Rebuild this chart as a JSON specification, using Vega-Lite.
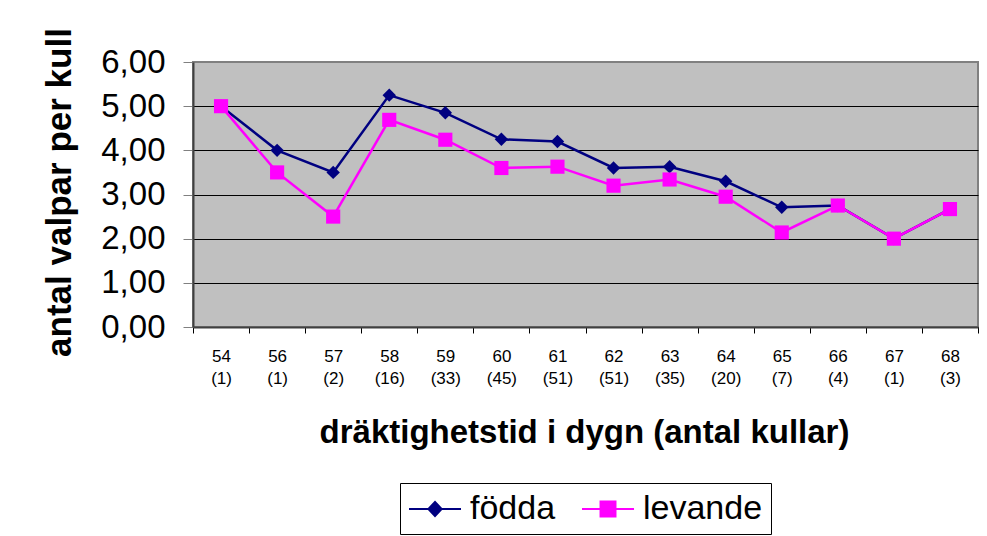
{
  "$schema": "https://vega.github.io/schema/vega-lite/v6.json",
  "width": 785,
  "height": 265,
  "autosize": {"type": "none"},
  "padding": {"left": 193, "top": 62, "right": 9, "bottom": 209},
  "background": "white",
  "config": {
    "font": "Liberation Sans",
    "view": {"fill": "#C0C0C0", "stroke": "#808080", "strokeWidth": 2}
  },
  "data": {
    "values": [
      {"kategori": "54 (1)", "serie": "födda", "antal": 5.00},
      {"kategori": "56 (1)", "serie": "födda", "antal": 4.00},
      {"kategori": "57 (2)", "serie": "födda", "antal": 3.50},
      {"kategori": "58 (16)", "serie": "födda", "antal": 5.25},
      {"kategori": "59 (33)", "serie": "födda", "antal": 4.85},
      {"kategori": "60 (45)", "serie": "födda", "antal": 4.25},
      {"kategori": "61 (51)", "serie": "födda", "antal": 4.20},
      {"kategori": "62 (51)", "serie": "födda", "antal": 3.60},
      {"kategori": "63 (35)", "serie": "födda", "antal": 3.63},
      {"kategori": "64 (20)", "serie": "födda", "antal": 3.30},
      {"kategori": "65 (7)", "serie": "födda", "antal": 2.71},
      {"kategori": "66 (4)", "serie": "födda", "antal": 2.75},
      {"kategori": "67 (1)", "serie": "födda", "antal": 2.00},
      {"kategori": "68 (3)", "serie": "födda", "antal": 2.67},
      {"kategori": "54 (1)", "serie": "levande", "antal": 5.00},
      {"kategori": "56 (1)", "serie": "levande", "antal": 3.50},
      {"kategori": "57 (2)", "serie": "levande", "antal": 2.50},
      {"kategori": "58 (16)", "serie": "levande", "antal": 4.69},
      {"kategori": "59 (33)", "serie": "levande", "antal": 4.24},
      {"kategori": "60 (45)", "serie": "levande", "antal": 3.60},
      {"kategori": "61 (51)", "serie": "levande", "antal": 3.63},
      {"kategori": "62 (51)", "serie": "levande", "antal": 3.20},
      {"kategori": "63 (35)", "serie": "levande", "antal": 3.34},
      {"kategori": "64 (20)", "serie": "levande", "antal": 2.95},
      {"kategori": "65 (7)", "serie": "levande", "antal": 2.14},
      {"kategori": "66 (4)", "serie": "levande", "antal": 2.75},
      {"kategori": "67 (1)", "serie": "levande", "antal": 2.00},
      {"kategori": "68 (3)", "serie": "levande", "antal": 2.67}
    ]
  },
  "encoding": {
    "x": {
      "field": "kategori",
      "type": "ordinal",
      "sort": null,
      "scale": {"type": "band", "paddingInner": 0, "paddingOuter": 0},
      "axis": {
        "title": "dräktighetstid i dygn (antal kullar)",
        "labelExpr": "isValid(datum.value) ? split(datum.value, ' ') : ''",
        "labelAngle": 0,
        "labelFont": "Liberation Sans",
        "labelFontSize": 17,
        "labelLineHeight": 22,
        "labelColor": "black",
        "labelPadding": 15,
        "tickBand": "extent",
        "tickSize": 6,
        "tickColor": "black",
        "tickWidth": 1,
        "domainColor": "#404040",
        "domainWidth": 2,
        "grid": false,
        "titleFontSize": 33,
        "titleFontWeight": "bold",
        "titleColor": "black",
        "titleX": 391,
        "titleY": 115,
        "titleAlign": "center",
        "titleBaseline": "alphabetic"
      }
    },
    "y": {
      "field": "antal",
      "type": "quantitative",
      "scale": {"domain": [0, 6], "nice": false},
      "axis": {
        "title": "antal valpar per kull",
        "values": [0, 1, 2, 3, 4, 5, 6],
        "labelExpr": "replace(format(datum.value, '.2f'), '.', ',')",
        "labelFontSize": 33,
        "labelColor": "black",
        "labelPadding": 18,
        "tickSize": 10,
        "tickColor": "#808080",
        "tickWidth": 1,
        "domainColor": "#404040",
        "domainWidth": 2,
        "grid": true,
        "gridColor": {"condition": {"test": "datum.value === 6", "value": "#808080"}, "value": "black"},
        "gridWidth": 1,
        "gridOpacity": 1,
        "titleFontSize": 35,
        "titleFontWeight": "bold",
        "titleColor": "black",
        "titleAngle": 270,
        "titleX": -123,
        "titleY": 130,
        "titleAlign": "center",
        "titleBaseline": "alphabetic"
      }
    }
  },
  "layer": [
    {
      "mark": {"type": "line", "strokeWidth": 2.5},
      "encoding": {
        "color": {
          "field": "serie",
          "type": "nominal",
          "sort": ["födda", "levande"],
          "scale": {"domain": ["födda", "levande"], "range": ["#000080", "#FF00FF"]},
          "legend": {
            "title": null,
            "orient": "none",
            "legendX": 207,
            "legendY": 421,
            "direction": "horizontal",
            "strokeColor": "black",
            "fillColor": "white",
            "padding": 8,
            "labelFontSize": 34,
            "labelColor": "black",
            "labelOffset": 26,
            "columnPadding": 22,
            "symbolSize": 1156,
            "symbolStrokeWidth": 2,
            "encode": {
              "symbols": {
                "update": {
                  "shape": {"signal": "datum.value === 'födda' ? 'M-1,0H2.06M0.53,-0.42L0.92,0L0.53,0.42L0.14,0Z' : 'M-1,0H2.06M0.09,-0.44H0.97V0.44H0.09Z'"},
                  "fill": {"scale": "color", "field": "value"},
                  "stroke": {"scale": "color", "field": "value"},
                  "strokeWidth": {"value": 2},
                  "opacity": {"value": 1},
                  "fillOpacity": {"value": 1}
                }
              }
            }
          }
        }
      }
    },
    {
      "transform": [{"filter": "datum.serie === 'födda'"}],
      "mark": {"type": "point", "filled": true, "opacity": 1, "shape": "diamond", "size": 180, "color": "#000080"}
    },
    {
      "transform": [{"filter": "datum.serie === 'levande'"}],
      "mark": {"type": "point", "filled": true, "opacity": 1, "shape": "square", "size": 200, "color": "#FF00FF"}
    }
  ]
}
